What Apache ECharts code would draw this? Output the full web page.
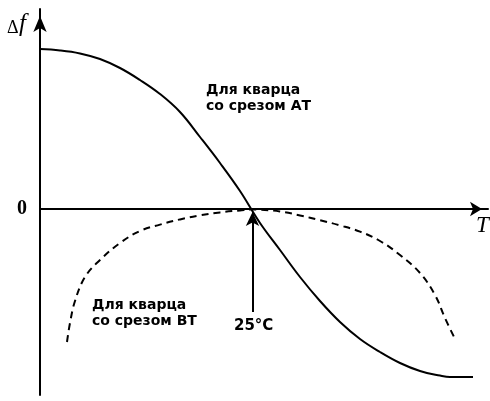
<!DOCTYPE html>
<html>
<head>
<meta charset="utf-8">
<script src="https://cdn.jsdelivr.net/npm/echarts@6/dist/echarts.min.js"></script>
<style>
  html, body { margin: 0; padding: 0; background: #fff; }
  #chart { width: 490px; height: 401px; }
</style>
</head>
<body>
<div id="chart"></div>
<script>
// temperature (arbitrary units, 25 = turnover point) and frequency deviation
const atTemp = [-60, -52, -44, -36, -28, -20, -12, -4, 4, 12, 20, 28, 36, 44, 52, 60, 68, 76, 84, 92, 100, 104, 113.2]
const atDf = [80, 79.3, 77.8, 75, 70.5, 64.5, 57.5, 48.5, 36, 23, 9, -7, -20.5, -34, -46, -56.5, -65, -71.5, -77, -81, -83.3, -84, -84]

const btTemp = [-49.2, -48, -46, -42, -36, -28, -20, -12, -4, 4, 12, 20, 25, 28, 36, 44, 52, 60, 68, 76, 84, 92, 98, 102, 106]
const btDf = [-66.5, -57, -46, -34, -25.5, -17, -11, -7.8, -5.2, -3.2, -1.7, -0.7, -0.2, -0.3, -1.2, -3.2, -5.6, -8.2, -11.3, -16, -23, -32, -43, -54.5, -65]

const turnTemp = 25
const arrowFrom = -51.5
const arrowTo = -1.5

const pairs = (xs, ys) => xs.map((x, i) => [x, ys[i]])

const chart = echarts.init(document.getElementById('chart'), null, { renderer: 'canvas' })

const labelFont = 'bold 14px "DejaVu Sans"'

const option = {
  backgroundColor: '#fff',
  animation: false,
  grid: { left: 40, top: 9, width: 448, height: 386 },
  xAxis: {
    type: 'value',
    min: -60,
    max: 119.2,
    axisLine: {
      onZero: true,
      symbol: ['none', 'arrow'],
      symbolSize: [11, 12],
      symbolOffset: [0, -6],
      lineStyle: { color: '#000', width: 2 }
    },
    axisTick: { show: false },
    axisLabel: { show: false },
    splitLine: { show: false }
  },
  yAxis: {
    type: 'value',
    min: -93,
    max: 100,
    axisLine: {
      onZero: false,
      symbol: ['none', 'arrow'],
      symbolSize: [10, 16],
      symbolOffset: [0, -7],
      lineStyle: { color: '#000', width: 2 }
    },
    axisTick: { show: false },
    axisLabel: { show: false },
    splitLine: { show: false }
  },
  series: [
    {
      name: 'AT',
      type: 'line',
      smooth: 0.4,
      showSymbol: false,
      data: pairs(atTemp, atDf),
      lineStyle: { color: '#000', width: 2 },
      markLine: {
        silent: true,
        symbol: ['none', 'arrow'],
        symbolSize: [10, 14],
        label: { show: false },
        lineStyle: { color: '#000', width: 2, type: 'solid' },
        data: [[{ coord: [turnTemp, arrowFrom] }, { coord: [turnTemp, arrowTo] }]]
      }
    },
    {
      name: 'BT',
      type: 'line',
      smooth: 0.4,
      showSymbol: false,
      data: pairs(btTemp, btDf),
      lineStyle: { color: '#000', width: 2, type: [7, 5] }
    }
  ],
  graphic: [
    { type: 'text', left: 7, top: 19, style: { text: 'Δ', font: '18px "Liberation Serif"', fill: '#000' } },
    { type: 'text', left: 19, top: 12, style: { text: 'f', font: 'italic 25px "Liberation Serif"', fill: '#000' } },
    { type: 'text', left: 17, top: 199, style: { text: '0', font: 'bold 20px "Liberation Serif"', fill: '#000' } },
    { type: 'text', left: 476, top: 214, style: { text: 'T', font: 'italic 23px "Liberation Serif"', fill: '#000' } },
    { type: 'text', left: 206, top: 82, style: { text: 'Для кварца\nсо срезом АТ', font: labelFont, lineHeight: 16, fill: '#000' } },
    { type: 'text', left: 92, top: 297, style: { text: 'Для кварца\nсо срезом ВТ', font: labelFont, lineHeight: 16, fill: '#000' } },
    { type: 'text', left: 234, top: 319, style: { text: '25°C', font: 'bold 15px "DejaVu Sans"', fill: '#000' } }
  ]
}

chart.setOption(option)
</script>
</body>
</html>
